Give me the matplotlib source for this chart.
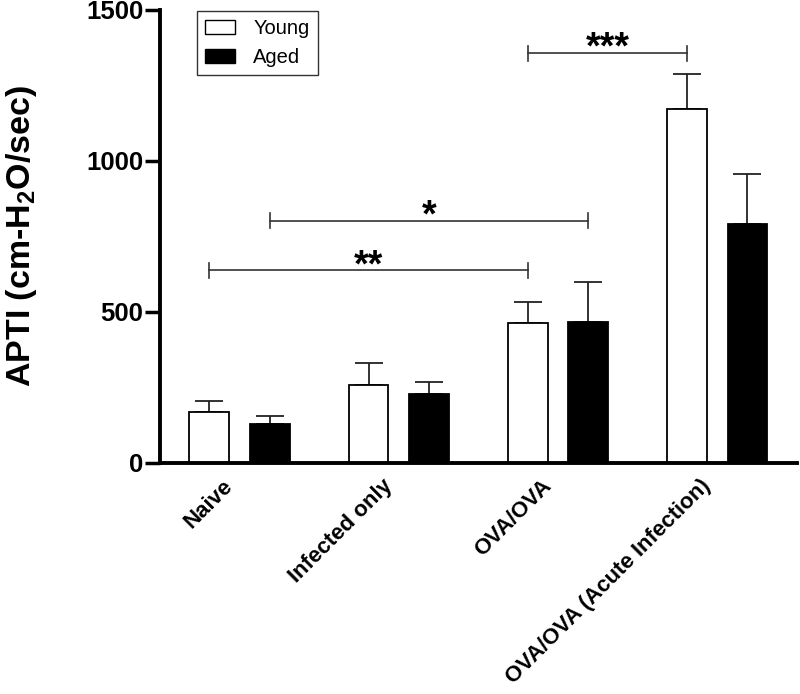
import numpy as np
import matplotlib
matplotlib.use("Agg")
import matplotlib.pyplot as plt
import matplotlib.transforms as mtransforms
from matplotlib.patches import Patch

plt.rcParams['font.family'] = ['Liberation Sans', 'DejaVu Sans']

# values
groups = ["Naive", "Infected only", "OVA/OVA", "OVA/OVA (Acute Infection)"]
young_mean = [167, 257, 462, 1172]
young_sem = [37, 74, 71, 116]
aged_mean = [128, 229, 466, 790]
aged_sem = [27, 38, 134, 168]

# significance brackets: (group, series, group, series, height, label)
brackets = [
    (0, "young", 2, "young", 637, "**"),
    (0, "aged", 2, "aged", 801, "*"),
    (2, "young", 3, "young", 1357, "***"),
]

width = 0.25
offset = 0.19
x = np.arange(len(groups))

fig = plt.figure(figsize=(8, 6.94), dpi=100)
ax = fig.add_axes([0.2, 0.3333, 0.796, 0.6523])

ax.bar(x - offset, young_mean, width, color="white", edgecolor="black",
       linewidth=1.3, zorder=2)
ax.bar(x + offset, aged_mean, width, color="black", edgecolor="black",
       linewidth=1.3, zorder=2)
# upward-only error bars
ax.errorbar(x - offset, young_mean, yerr=[np.zeros(4), young_sem], fmt="none",
            ecolor="#222222", elinewidth=1.3, capsize=10, capthick=1.3, zorder=1)
ax.errorbar(x + offset, aged_mean, yerr=[np.zeros(4), aged_sem], fmt="none",
            ecolor="#222222", elinewidth=1.3, capsize=10, capthick=1.3, zorder=1)

def xpos(g, s):
    return g - offset if s == "young" else g + offset

for g1, s1, g2, s2, h, lab in brackets:
    x1, x2 = xpos(g1, s1), xpos(g2, s2)
    ax.plot([x1, x2], [h, h], color="#333333", lw=1.2)
    ax.plot([x1, x1], [h - 25, h + 25], color="#333333", lw=1.2)
    ax.plot([x2, x2], [h - 25, h + 25], color="#333333", lw=1.2)
    ax.text((x1 + x2) / 2, h - 45, lab, ha="center", va="bottom",
            fontsize=27, fontweight="bold")

ax.set_xlim(-0.5, 3.5)
ax.set_ylim(0, 1500)
ax.set_yticks([0, 500, 1000, 1500])
ax.set_xticks(x)
ax.set_xticklabels([])

# rotated group labels, nudged so their ends sit just under the groups
lab_trans = ax.get_xaxis_transform() + mtransforms.ScaledTranslation(
    -0.17, -0.13, fig.dpi_scale_trans)
for xi, name in zip(x, groups):
    ax.text(xi, 0, name, transform=lab_trans, rotation=45, ha="right", va="top",
            rotation_mode="anchor", fontsize=16, fontweight="bold")

for lbl in ax.get_yticklabels():
    lbl.set_fontsize(18.5)
    lbl.set_fontweight("bold")
ax.tick_params(axis="x", length=0)
ax.tick_params(axis="y", length=11, width=2.5, direction="out", pad=1)

for side in ["top", "right"]:
    ax.spines[side].set_visible(False)
ax.spines["left"].set_linewidth(2.8)
ax.spines["bottom"].set_linewidth(2.8)

ax.set_ylabel("APTI (cm-H$_\\mathregular{2}$O/sec)", fontsize=24.5,
              fontweight="bold")
ax.yaxis.set_label_coords(-0.19, 0.5)

handles = [Patch(facecolor="white", edgecolor="black", label="Young"),
           Patch(facecolor="black", edgecolor="black", label="Aged")]
leg = ax.legend(handles=handles, loc="upper left", bbox_to_anchor=(0.058, 0.998),
                fontsize=14.5, frameon=True, fancybox=False, edgecolor="black",
                handlelength=1.5, handleheight=0.65, borderpad=0.4, labelspacing=0.5,
                handletextpad=0.9, borderaxespad=0.0)
leg.get_frame().set_linewidth(1.0)

fig.savefig("out.png", dpi=100)
